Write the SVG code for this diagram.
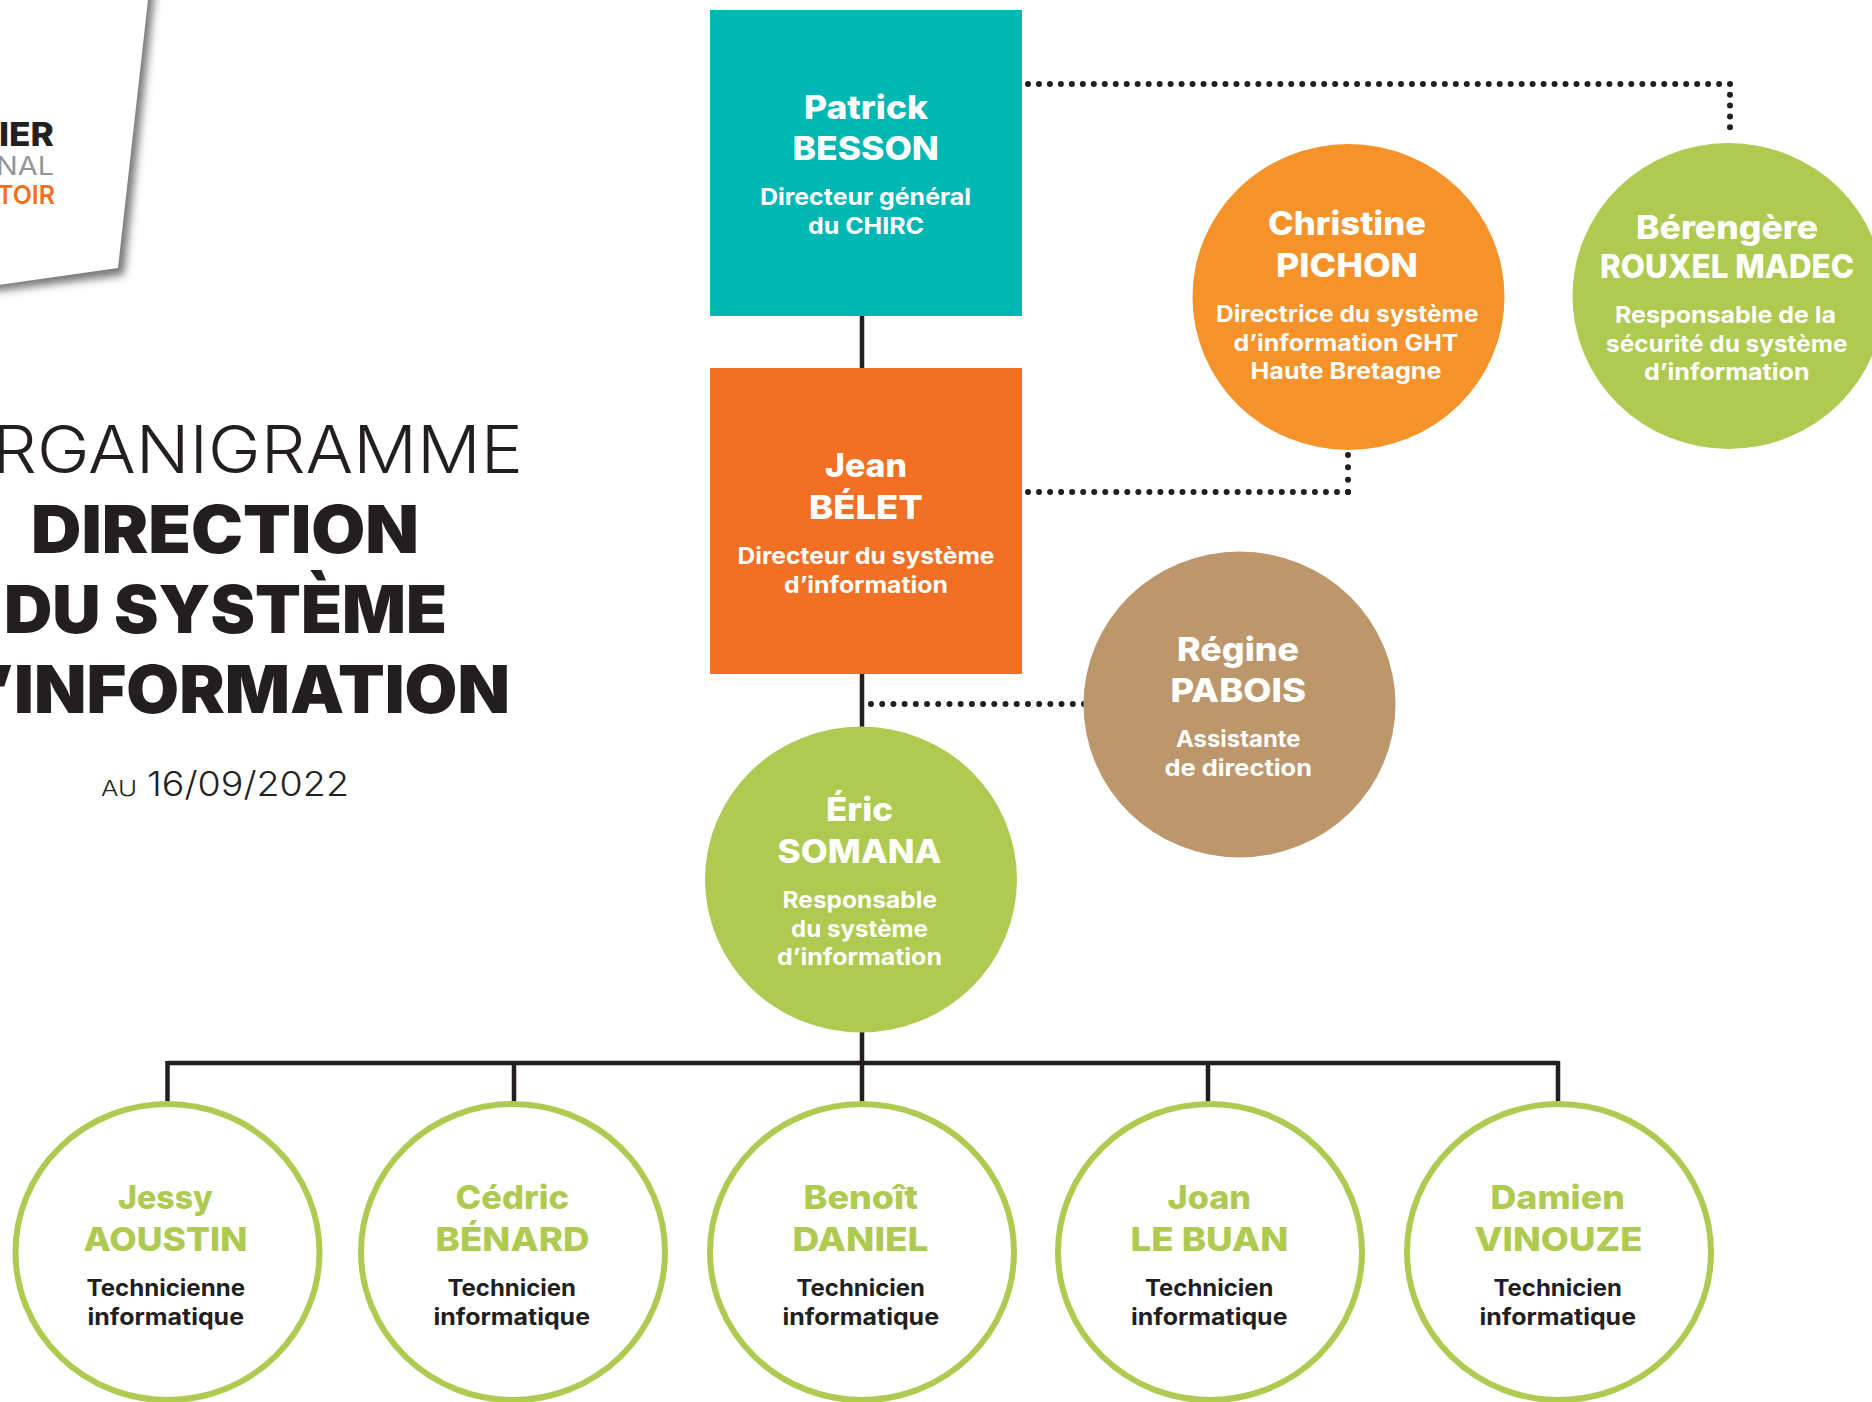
<svg xmlns="http://www.w3.org/2000/svg" width="1872" height="1402" viewBox="0 0 1872 1402">
<defs>
<style>
text{font-family:"Inter","Liberation Sans",sans-serif;text-anchor:start}
.n{font-size:33px;font-weight:800;fill:#fff}
.r{font-size:23px;font-weight:700;fill:#fff}
.g{fill:#afca50}
.k{fill:#231f20}
.solid{fill:none;stroke:#231f20;stroke-width:4.5}
.dot{fill:none;stroke:#231f20;stroke-width:6;stroke-linecap:round}
.ring{fill:#fff;stroke:#afca50;stroke-width:6}
</style>
<filter id="sh" x="-30%" y="-30%" width="170%" height="170%"><feGaussianBlur stdDeviation="4"/></filter>
</defs>
<rect width="1872" height="1402" fill="#fff"/>
<g id="logo">
<polygon points="-10,292 124,275 155,-10 -10,-10" fill="#555" opacity=".8" filter="url(#sh)"/>
<polygon points="-2,285 118,268 148,0 -2,0" fill="#fff"/>
<text x="-1" y="146" font-size="33" font-weight="800" fill="#231f20" textLength="55" lengthAdjust="spacingAndGlyphs">IER</text>
<text x="-4" y="175" font-size="25" font-weight="400" fill="#939598" textLength="58" lengthAdjust="spacingAndGlyphs">NAL</text>
<text x="-3" y="204" font-size="25" font-weight="600" fill="#f36f21" textLength="58" lengthAdjust="spacingAndGlyphs">TOIR</text>
</g>
<g id="title">
<text x="-8" y="473" font-size="66" font-weight="300" fill="#231f20" textLength="531" lengthAdjust="spacingAndGlyphs">RGANIGRAMME</text>
<text x="31" y="553" font-size="66" font-weight="900" fill="#231f20" textLength="388" lengthAdjust="spacingAndGlyphs">DIRECTION</text>
<text x="4" y="633" font-size="66" font-weight="900" fill="#231f20" textLength="443" lengthAdjust="spacingAndGlyphs">DU SYSTÈME</text>
<text x="-10" y="713" font-size="66" font-weight="900" fill="#231f20" textLength="520" lengthAdjust="spacingAndGlyphs">’INFORMATION</text>
<text x="101" y="796" font-size="21" font-weight="300" fill="#231f20" textLength="36" lengthAdjust="spacingAndGlyphs">AU</text>
<text x="147" y="796" font-size="34" font-weight="300" fill="#231f20" textLength="202" lengthAdjust="spacingAndGlyphs">16/09/2022</text>
</g>
<g id="connectors">
<path class="solid" d="M862 316V368M862 674V727M862 1032V1102M167.500 1063H1558M167.500 1061V1102M514 1061V1102M1208 1061V1102M1558 1061V1102"/>
<path class="dot" stroke-dasharray="0 10.97" d="M1028 84H1730"/>
<path class="dot" stroke-dasharray="0 10.8" d="M1730 84V138"/>
<path class="dot" stroke-dasharray="0 11.034" d="M1348 492H1028"/>
<path class="dot" stroke-dasharray="0 12.33" d="M1348 492V455"/>
<path class="dot" stroke-dasharray="0 11.21" d="M871 704H1084"/>
</g>
<g id="patrick-besson">
<rect x="710" y="10" width="312" height="306" fill="#00b7b3"/>
<text class="n" x="804" y="119" textLength="124" lengthAdjust="spacingAndGlyphs">Patrick</text>
<text class="n" x="792.500" y="160" textLength="146.500" lengthAdjust="spacingAndGlyphs">BESSON</text>
<text class="r" x="760" y="205" textLength="211" lengthAdjust="spacingAndGlyphs">Directeur général</text>
<text class="r" x="808" y="234" textLength="116" lengthAdjust="spacingAndGlyphs">du CHIRC</text>
</g>
<g id="jean-belet">
<rect x="710" y="368" width="312" height="306" fill="#f36f24"/>
<text class="n" x="825" y="477" textLength="82" lengthAdjust="spacingAndGlyphs">Jean</text>
<text class="n" x="809" y="519" textLength="114" lengthAdjust="spacingAndGlyphs">BÉLET</text>
<text class="r" x="737.500" y="564" textLength="257" lengthAdjust="spacingAndGlyphs">Directeur du système</text>
<text class="r" x="784" y="593" textLength="164" lengthAdjust="spacingAndGlyphs">d’information</text>
</g>
<g id="christine-pichon">
<ellipse cx="1348.500" cy="297" rx="156" ry="153" fill="#f59229"/>
<text class="n" x="1268" y="235" textLength="158" lengthAdjust="spacingAndGlyphs">Christine</text>
<text class="n" x="1276" y="277" textLength="142" lengthAdjust="spacingAndGlyphs">PICHON</text>
<text class="r" x="1216" y="322" textLength="262.500" lengthAdjust="spacingAndGlyphs">Directrice du système</text>
<text class="r" x="1233.500" y="351" textLength="225" lengthAdjust="spacingAndGlyphs">d’information GHT</text>
<text class="r" x="1250.500" y="379" textLength="191" lengthAdjust="spacingAndGlyphs">Haute Bretagne</text>
</g>
<g id="berengere-rouxel-madec">
<ellipse cx="1728.500" cy="296" rx="156" ry="153" class="g"/>
<text class="n" x="1636" y="239" textLength="182" lengthAdjust="spacingAndGlyphs">Bérengère</text>
<text class="n" x="1600" y="278" textLength="254" lengthAdjust="spacingAndGlyphs">ROUXEL MADEC</text>
<text class="r" x="1615" y="323" textLength="221" lengthAdjust="spacingAndGlyphs">Responsable de la</text>
<text class="r" x="1606" y="352" textLength="241.500" lengthAdjust="spacingAndGlyphs">sécurité du système</text>
<text class="r" x="1644" y="380" textLength="165.500" lengthAdjust="spacingAndGlyphs">d’information</text>
</g>
<g id="regine-pabois">
<ellipse cx="1239.500" cy="704.500" rx="156" ry="153" fill="#bd976c"/>
<text class="n" x="1177" y="661" textLength="122" lengthAdjust="spacingAndGlyphs">Régine</text>
<text class="n" x="1170.500" y="702" textLength="135.500" lengthAdjust="spacingAndGlyphs">PABOIS</text>
<text class="r" x="1176" y="747" textLength="124.500" lengthAdjust="spacingAndGlyphs">Assistante</text>
<text class="r" x="1164.500" y="776" textLength="147.500" lengthAdjust="spacingAndGlyphs">de direction</text>
</g>
<g id="eric-somana">
<ellipse cx="861" cy="879.500" rx="156" ry="153" class="g"/>
<text class="n" x="826" y="821" textLength="67" lengthAdjust="spacingAndGlyphs">Éric</text>
<text class="n" x="777.500" y="863" textLength="164" lengthAdjust="spacingAndGlyphs">SOMANA</text>
<text class="r" x="782.500" y="908" textLength="154.500" lengthAdjust="spacingAndGlyphs">Responsable</text>
<text class="r" x="791" y="937" textLength="137" lengthAdjust="spacingAndGlyphs">du système</text>
<text class="r" x="777" y="965" textLength="165" lengthAdjust="spacingAndGlyphs">d’information</text>
</g>
<g id="jessy-aoustin">
<ellipse class="ring" cx="167.500" cy="1252" rx="152" ry="148"/>
<text class="n g" x="118" y="1208.500" textLength="95" lengthAdjust="spacingAndGlyphs">Jessy</text>
<text class="n g" x="83.500" y="1251" textLength="164" lengthAdjust="spacingAndGlyphs">AOUSTIN</text>
<text class="r k" x="86.500" y="1296" textLength="158.500" lengthAdjust="spacingAndGlyphs">Technicienne</text>
<text class="r k" x="87.500" y="1325" textLength="156.500" lengthAdjust="spacingAndGlyphs">informatique</text>
</g>
<g id="cedric-benard">
<ellipse class="ring" cx="513" cy="1252" rx="152" ry="148"/>
<text class="n g" x="455.500" y="1208.500" textLength="113.500" lengthAdjust="spacingAndGlyphs">Cédric</text>
<text class="n g" x="435.500" y="1251" textLength="154" lengthAdjust="spacingAndGlyphs">BÉNARD</text>
<text class="r k" x="447.500" y="1296" textLength="128.500" lengthAdjust="spacingAndGlyphs">Technicien</text>
<text class="r k" x="433.500" y="1325" textLength="156.500" lengthAdjust="spacingAndGlyphs">informatique</text>
</g>
<g id="benoit-daniel">
<ellipse class="ring" cx="862" cy="1252" rx="152" ry="148"/>
<text class="n g" x="803.500" y="1208.500" textLength="114.500" lengthAdjust="spacingAndGlyphs">Benoît</text>
<text class="n g" x="792.500" y="1251" textLength="136" lengthAdjust="spacingAndGlyphs">DANIEL</text>
<text class="r k" x="796.500" y="1296" textLength="128.500" lengthAdjust="spacingAndGlyphs">Technicien</text>
<text class="r k" x="782.500" y="1325" textLength="156.500" lengthAdjust="spacingAndGlyphs">informatique</text>
</g>
<g id="joan-le-buan">
<ellipse class="ring" cx="1210" cy="1252" rx="152" ry="148"/>
<text class="n g" x="1167.500" y="1208.500" textLength="83.500" lengthAdjust="spacingAndGlyphs">Joan</text>
<text class="n g" x="1130.500" y="1251" textLength="158" lengthAdjust="spacingAndGlyphs">LE BUAN</text>
<text class="r k" x="1145" y="1296" textLength="128.500" lengthAdjust="spacingAndGlyphs">Technicien</text>
<text class="r k" x="1131" y="1325" textLength="156.500" lengthAdjust="spacingAndGlyphs">informatique</text>
</g>
<g id="damien-vinouze">
<ellipse class="ring" cx="1559" cy="1252" rx="152" ry="148"/>
<text class="n g" x="1490.500" y="1208.500" textLength="134.500" lengthAdjust="spacingAndGlyphs">Damien</text>
<text class="n g" x="1474.500" y="1251" textLength="168" lengthAdjust="spacingAndGlyphs">VINOUZE</text>
<text class="r k" x="1493.500" y="1296" textLength="128.500" lengthAdjust="spacingAndGlyphs">Technicien</text>
<text class="r k" x="1479.500" y="1325" textLength="156.500" lengthAdjust="spacingAndGlyphs">informatique</text>
</g>
</svg>
